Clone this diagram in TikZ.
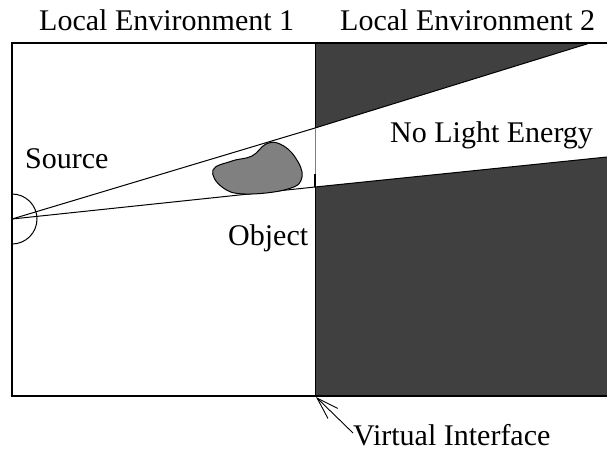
\documentclass[tikz,border=0pt]{standalone}
\usepackage{fontspec}
\setmainfont{Liberation Serif}
\usetikzlibrary{arrows.meta}
\definecolor{darkfill}{HTML}{404040}
\definecolor{objfill}{HTML}{808080}
\begin{document}
\begin{tikzpicture}[x=1pt,y=-1pt,
  lbl/.style={inner sep=0pt,font=\fontsize{30}{35}\selectfont},
  ray/.style={line width=1pt},
  frame/.style={line width=1.2pt}]
\useasboundingbox (0,0) rectangle (607,450);
% key points
\coordinate (src) at (12,219);
\coordinate (iu) at (315,128);
\coordinate (il) at (315,187);
\coordinate (tu) at (590,43);
\coordinate (rl) at (607,157);
\coordinate (itop) at (315,43);
\coordinate (ibot) at (315,396);
% dark regions
\fill[darkfill] (itop) -- (tu) -- (iu) -- cycle;
\fill[darkfill] (il) -- (rl) -- (607,396) -- (ibot) -- cycle;
\draw[ray] (itop) -- (tu) -- (iu);
\draw[ray] (il) -- (rl);
% interface line
\draw[gray, line width=0.8pt] (iu) -- (315,175);
\draw[line width=1.5pt] (315,174) -- (il);
\draw[line width=1pt] (il) -- (ibot);
\draw[line width=1pt] (itop) -- (iu);
% frame
\draw[frame] (607,43) -- (12,43) -- (12,396) -- (607,396);
% rays
\draw[ray] (src) -- (iu);
\draw[ray] (src) -- (il);
% source
\draw[line width=1pt] (12,194) arc[start angle=90,end angle=-90,radius=25pt];
\draw[line width=2pt] (12,194) -- (12,244);
% object
\draw[line width=1pt, fill=objfill] plot[smooth cycle, tension=0.7] coordinates
  {(213,170) (232,161) (252,156) (266,144) (280,144) (295,157) (302,177) (288,189) (245,194) (222,187)};
% labels
\node[lbl, anchor=base west] (le1) at (39,30) {Local Environment 1};
\node[lbl, anchor=base west] (le2) at (340,30) {Local Environment 2};
\node[lbl, anchor=base west] (nle) at (390,142) {No Light Energy};
\node[lbl, anchor=base west] (srcl) at (25,168) {Source};
\node[lbl, anchor=base west] (obj) at (228,245) {Object};
\node[lbl, anchor=base west] (vi) at (353,445) {Virtual Interface};
\coordinate (vitail) at (353,433);
\draw[line width=0.9pt, -{Straight Barb[length=22pt,width=14pt]}] (vitail) -- (316,397);
\end{tikzpicture}
\end{document}
